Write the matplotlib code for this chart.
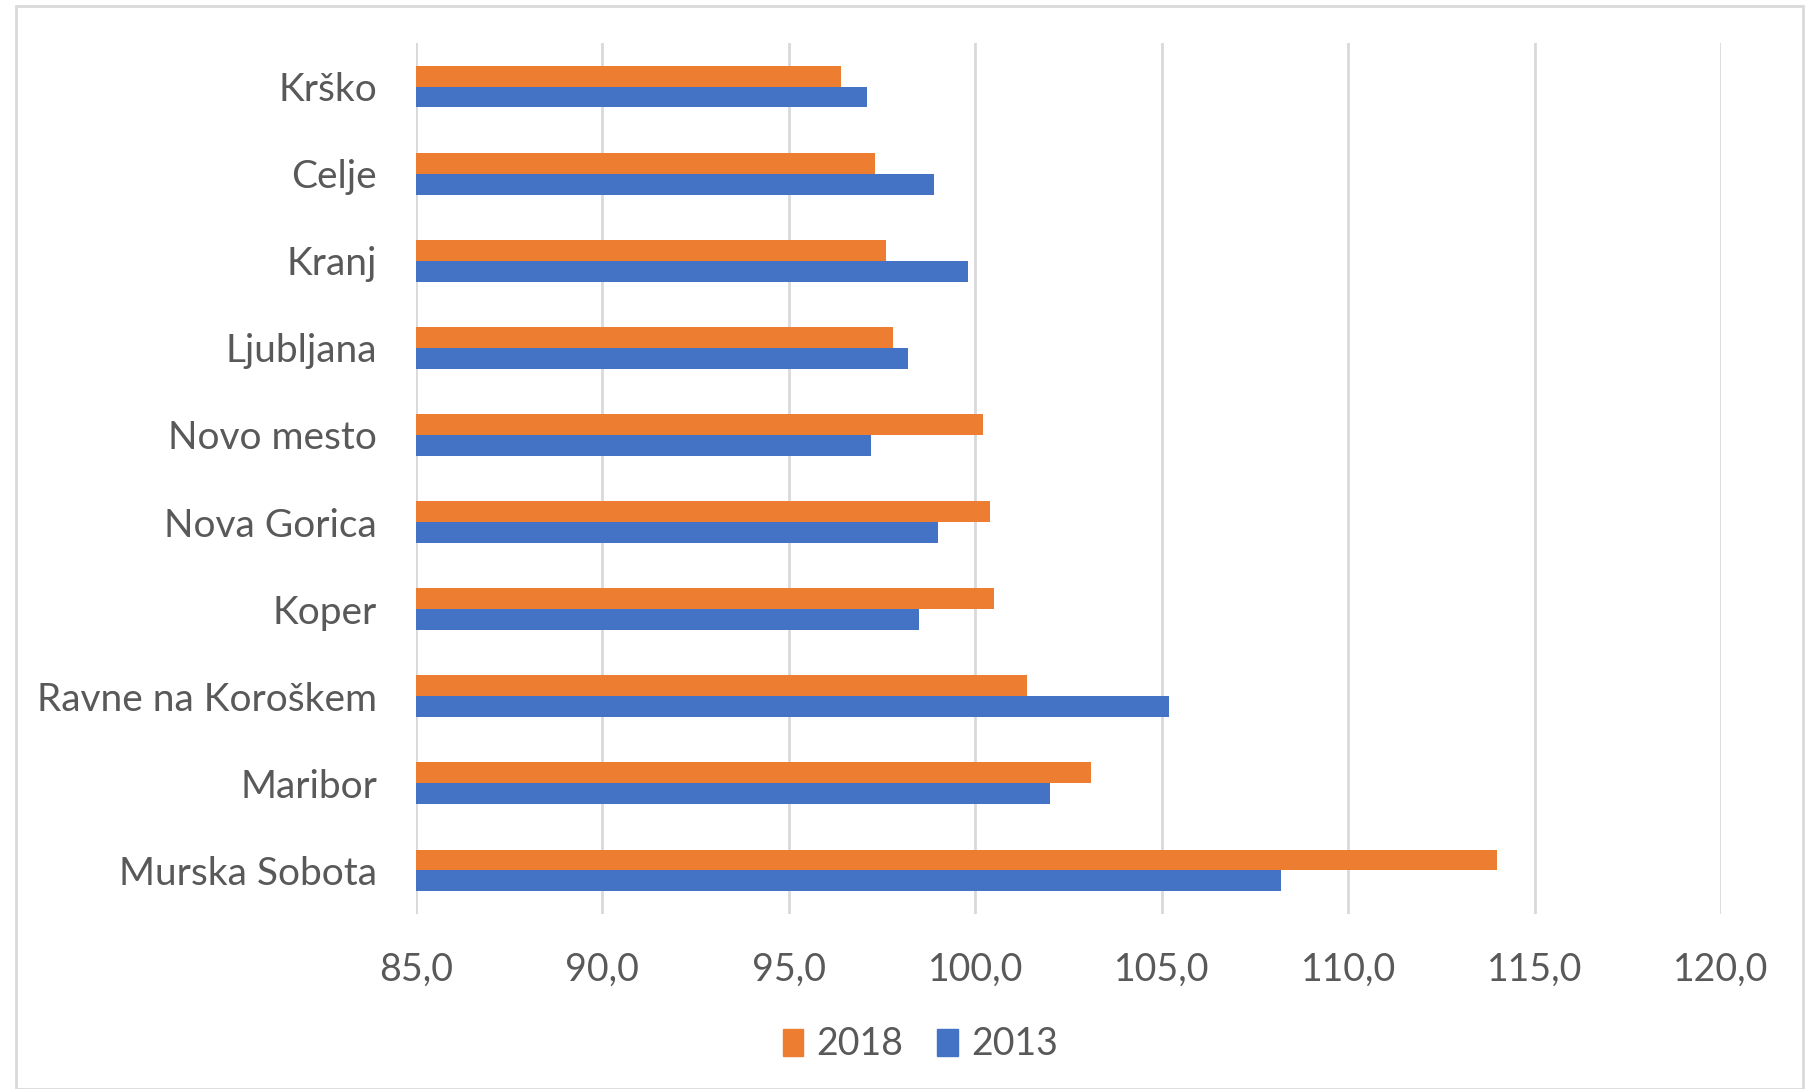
import matplotlib.pyplot as plt
from matplotlib.patches import Rectangle, Patch
import numpy as np

# data
regions = ["Krško", "Celje", "Kranj", "Ljubljana", "Novo mesto", "Nova Gorica",
           "Koper", "Ravne na Koroškem", "Maribor", "Murska Sobota"]
values_2018 = [96.4, 97.3, 97.6, 97.8, 100.2, 100.4, 100.5, 101.4, 103.1, 114.0]
values_2013 = [97.1, 98.9, 99.8, 98.2, 97.2, 99.0, 98.5, 105.2, 102.0, 108.2]
xticks = [85, 90, 95, 100, 105, 110, 115, 120]

orange = "#ED7D31"
blue = "#4472C4"
grid_col = "#D9D9D9"
text_col = "#595959"

plt.rcParams['font.family'] = ['Lato', 'DejaVu Sans']

fig = plt.figure(figsize=(18.15, 10.89), dpi=100)
ax = fig.add_axes([0.2292, 0.1607, 0.719, 0.7998])

ind = np.arange(len(regions))
h = 0.24
base = 85
ax.barh(ind - h / 2, np.array(values_2018) - base, left=base, height=h, color=orange, label="2018", zorder=3)
ax.barh(ind + h / 2, np.array(values_2013) - base, left=base, height=h, color=blue, label="2013", zorder=3)

ax.set_xlim(85, 120)
ax.set_ylim(len(regions) - 0.5, -0.5)
ax.set_xticks(xticks)
ax.set_xticklabels([f"{t:.1f}".replace(".", ",") for t in xticks])
ax.set_yticks(ind)
ax.set_yticklabels(regions)

ax.grid(axis="x", color=grid_col, linewidth=2, zorder=0)
for s in ax.spines.values():
    s.set_visible(False)
ax.tick_params(axis="both", length=0, colors=text_col, labelsize=27)
ax.tick_params(axis="x", pad=27)
ax.tick_params(axis="y", pad=28, labelsize=28)

# outer frame
fig.patches.append(Rectangle((16 / 1815, 0.0), (1803 - 16) / 1815, 1 - 6 / 1089,
                             transform=fig.transFigure, fill=False,
                             edgecolor=grid_col, linewidth=2))

handles = [Patch(color=orange, label="2018"), Patch(color=blue, label="2013")]
fig.legend(handles=handles, loc="center", bbox_to_anchor=(0.507, 0.041), ncol=2,
           frameon=False, fontsize=27, labelcolor=text_col, handlelength=0.55,
           handleheight=0.75, handletextpad=0.35, columnspacing=0.9)

plt.savefig("out.png", dpi=100)
